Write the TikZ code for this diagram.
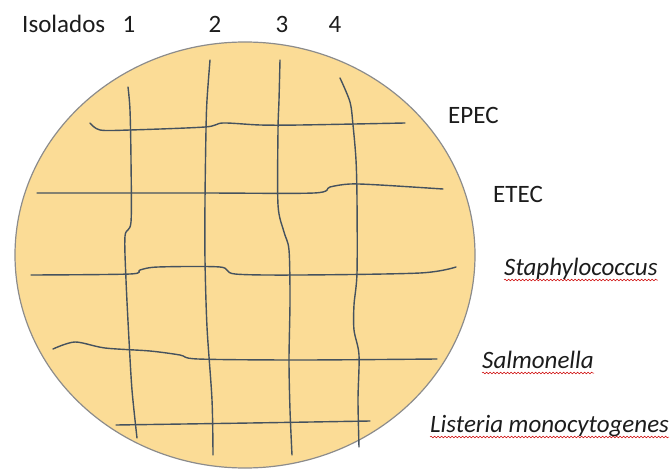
\documentclass[tikz,border=0pt]{standalone}
\usepackage{fontspec}
\setmainfont{Carlito}
\usepackage{tikz}
\usetikzlibrary{decorations.pathmorphing}
\definecolor{agar}{HTML}{FBDC96}
\definecolor{rim}{HTML}{8C8C8C}
\definecolor{streak}{HTML}{45525E}
\definecolor{ink}{HTML}{1C1C1C}

\begin{document}
\begin{tikzpicture}[x=1pt, y=-1pt,
  lbl/.style={font=\fontsize{25}{29}\selectfont, text=ink, inner sep=0pt},
  streakline/.style={draw=streak, line width=1.4pt, line cap=round, line join=round},
  spell/.style={draw=red!80!black, line width=0.5pt, decorate,
    decoration={snake, amplitude=0.8pt, segment length=3.5pt}}]
\useasboundingbox (0,0) rectangle (671,470);
% plate
\fill[agar, draw=rim, line width=1.2pt] (245,255) ellipse [x radius=230, y radius=213];
% header
\node[lbl, anchor=base west] (iso) at (22,33) {Isolados};
\node[lbl, anchor=base] (n1) at (129,33) {1};
\node[lbl, anchor=base] (n2) at (215,33) {2};
\node[lbl, anchor=base] (n3) at (282,33) {3};
\node[lbl, anchor=base] (n4) at (335,33) {4};
% isolates (vertical streaks)
\draw[streakline] plot[smooth, tension=0.5] coordinates
  {(128,87) (130,110) (131,160) (131,222) (125,236) (126,280) (129,340) (132,390) (137,438)};
\draw[streakline] plot[smooth, tension=0.5] coordinates
  {(210,60) (207,100) (206,130) (205,200) (205,260) (207,327) (212,400) (213,455)};
\draw[streakline] plot[smooth, tension=0.5] coordinates
  {(280,60) (279,100) (278,130) (278,205) (284,232) (289,250) (290,300) (289,360) (290,410) (292,455)};
\draw[streakline] plot[smooth, tension=0.5] coordinates
  {(340,78) (350,102) (353,125) (356,160) (357,200) (357,273) (354,305) (354,330) (359,355) (358,400) (359,447)};
% bacteria (horizontal streaks)
\draw[streakline] plot[smooth, tension=0.5] coordinates
  {(90,123) (100,130) (130,130) (205,127) (223,123) (260,125) (300,125) (405,123)};
\draw[streakline] plot[smooth, tension=0.5] coordinates
  {(37,193) (200,193) (314,193) (330,187) (350,184) (380,185) (443,189)};
\draw[streakline] plot[smooth, tension=0.5] coordinates
  {(31,275) (130,274) (140,270) (158,267) (220,267) (235,274) (300,275) (420,273) (456,267)};
\draw[streakline] plot[smooth, tension=0.5] coordinates
  {(53,349) (75,342) (105,348) (150,351) (180,355) (198,359) (300,360) (437,359)};
\draw[streakline] plot[smooth, tension=0.5] coordinates
  {(116,425) (250,423) (370,421)};
% labels
\node[lbl, anchor=base west] (epec) at (448,124) {EPEC};
\node[lbl, anchor=base west] (etec) at (493,203) {ETEC};
\node[lbl, anchor=base west] (staph) at (504,275) {\itshape Staphylococcus};
\node[lbl, anchor=base west] (salm) at (482,368) {\itshape Salmonella};
\node[lbl, anchor=base west] (list) at (430,432) {\itshape Listeria monocytogenes};
% spell-check marks
\draw[spell] ([yshift=-5pt]staph.base west) -- ([yshift=-5pt]staph.base east);
\draw[spell] ([yshift=-5pt]salm.base west) -- ([yshift=-5pt]salm.base east);
\draw[spell] ([yshift=-5pt]list.base west) -- ([yshift=-5pt]list.base east);
\end{tikzpicture}
\end{document}
